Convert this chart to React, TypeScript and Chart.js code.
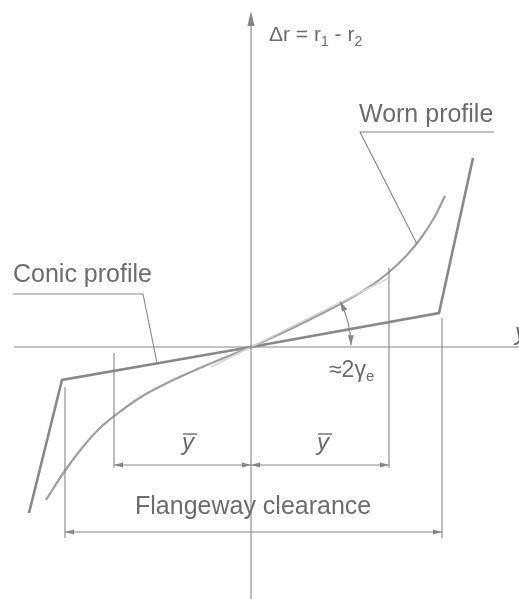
import { useEffect, useRef } from "react";
import { Chart, registerables } from "chart.js";

Chart.register(...registerables);

// Profile geometry in drawing units (lateral displacement y, rolling radius difference Δr)
const conicX = [-22.2, -18.9, 0, 18.8, 22.2];
const conicY = [-16.6, -3.3, 0, 3.4, 18.9];

const wornX = [-20.5, -18.7, -16.9, -15.2, -13.4, -11.0, -8.8, -5.1, -2.1, 0, 2.9, 6.0, 9.1, 11.5, 13.7, 15.5, 17.0, 18.3, 19.4];
const wornY = [-15.3, -12.5, -10.1, -8.2, -6.7, -5.0, -3.8, -2.1, -0.85, 0, 1.3, 2.8, 4.4, 5.8, 7.4, 9.1, 10.9, 12.9, 15.1];

// equivalent-conicity tangent through the origin
const tangentX = [-4, 0, 13.7];
const tangentY = [-2.0, 0, 6.85];

// axes
const axisHX = [-23.7, 26.8];
const axisVY = [-25.2, 33.6];

// dimension lines: [from, to, level]
const ybarLeft = [-13.7, 0, -11.8];
const ybarRight = [0, 13.8, -11.8];
const flangeway = [-18.6, 19.1, -18.5];

// extension lines: [x, yTop, yBottom]
const extLines = [
  [-13.7, -0.6, -12.1],
  [13.8, 7.9, -12.1],
  [-18.6, -4.0, -19.1],
  [19.1, 2.9, -19.1],
];

// leader lines (polyline points)
const conicLeaderX = [-23.8, -10.8, -9.4];
const conicLeaderY = [5.3, 5.3, -1.6];
const wornLeaderX = [24.3, 10.9, 16.6];
const wornLeaderY = [21.5, 21.5, 10.3];

// angle arc 2γe (radius, start angle, end angle in degrees)
const arcSpec = [10, 1, 27];

// text anchors
const conicLabel = { text: "Conic profile", x: -23.8, y: 6.5 };
const wornLabel = { text: "Worn profile", x: 10.8, y: 22.5 };
const flangeLabel = { text: "Flangeway clearance", x: -11.6, y: -16.7 };
const drLabel = { x: 1.8, y: 30.6 };
const gammaLabel = { x: 7.8, y: -2.97 };
const ybarLabels = [
  { x: -6.3, y: -10.3 },
  { x: 7.2, y: -10.3 },
];
const yAxisLabel = { text: "y", x: 26.4, y: 0.7 };

const X_MIN = -25.1;
const X_MAX = 26.8;
const Y_MIN = -25.2;
const Y_MAX = 34.7;

const THIN = "#858585";
const TEXT = "#6c6c6c";
const FONT = '"Liberation Sans", Arial, sans-serif';

const pts = (xs: number[], ys: number[]) => xs.map((x, i) => ({ x, y: ys[i] }));

const annotations = {
  id: "profileAnnotations",
  afterDatasetsDraw(chart: any) {
    const { ctx } = chart;
    const sx = (v: number) => chart.scales.x.getPixelForValue(v);
    const sy = (v: number) => chart.scales.y.getPixelForValue(v);

    const line = (x1: number, y1: number, x2: number, y2: number) => {
      ctx.beginPath();
      ctx.moveTo(sx(x1), sy(y1));
      ctx.lineTo(sx(x2), sy(y2));
      ctx.stroke();
    };
    const head = (px: number, py: number, dx: number, dy: number, len = 9, half = 2.6) => {
      const n = Math.hypot(dx, dy);
      const ux = dx / n;
      const uy = dy / n;
      ctx.beginPath();
      ctx.moveTo(px, py);
      ctx.lineTo(px - ux * len - uy * half, py - uy * len + ux * half);
      ctx.lineTo(px - ux * len + uy * half, py - uy * len - ux * half);
      ctx.closePath();
      ctx.fill();
    };

    ctx.save();
    ctx.strokeStyle = THIN;
    ctx.fillStyle = THIN;
    ctx.lineWidth = 1.1;

    // axes
    line(axisHX[0], 0, axisHX[1], 0);
    line(0, axisVY[0], 0, axisVY[1] - 1.2);
    head(sx(0), sy(axisVY[1]), 0, -1, 15, 3.6);

    // extension lines
    extLines.forEach(([x, t, b]) => line(x, t, x, b));

    // dimension lines with arrowheads
    [ybarLeft, ybarRight, flangeway].forEach(([a, b, lvl]) => {
      line(a, lvl, b, lvl);
      head(sx(a), sy(lvl), -1, 0);
      head(sx(b), sy(lvl), 1, 0);
    });

    // leaders
    [[conicLeaderX, conicLeaderY], [wornLeaderX, wornLeaderY]].forEach(([xs, ys]) => {
      ctx.beginPath();
      xs.forEach((x, i) => (i ? ctx.lineTo(sx(x), sy(ys[i])) : ctx.moveTo(sx(x), sy(ys[i]))));
      ctx.stroke();
    });

    // angle arc with arrows at both ends
    const [r, a0, a1] = arcSpec;
    const cx = sx(0);
    const cy = sy(0);
    const rp = sx(r) - sx(0);
    const t0 = (a0 * Math.PI) / 180;
    const t1 = (a1 * Math.PI) / 180;
    ctx.beginPath();
    ctx.arc(cx, cy, rp, -t1, -t0);
    ctx.stroke();
    head(cx + rp * Math.cos(t1), cy - rp * Math.sin(t1), -Math.sin(t1), -Math.cos(t1), 10, 3);
    head(cx + rp * Math.cos(t0), cy - rp * Math.sin(t0), Math.sin(t0), Math.cos(t0), 10, 3);

    // labels
    ctx.fillStyle = TEXT;
    ctx.textBaseline = "alphabetic";
    ctx.textAlign = "left";
    ctx.font = `25px ${FONT}`;
    [conicLabel, wornLabel, flangeLabel].forEach((l) => ctx.fillText(l.text, sx(l.x), sy(l.y)));

    // Δr = r1 - r2
    const runs = (x0: number, y0: number, parts: [string, number, number][]) => {
      let x = x0;
      parts.forEach(([s, size, dy]) => {
        ctx.font = `${size}px ${FONT}`;
        ctx.fillText(s, x, y0 + dy);
        x += ctx.measureText(s).width;
      });
    };
    runs(sx(drLabel.x), sy(drLabel.y), [
      ["Δr = r", 21, 0],
      ["1", 14, 5],
      [" - r", 21, 0],
      ["2", 14, 5],
    ]);
    runs(sx(gammaLabel.x), sy(gammaLabel.y), [
      ["≈2γ", 23, 0],
      ["e", 15, 4],
    ]);

    // ȳ
    ybarLabels.forEach((l) => {
      const x = sx(l.x);
      const y = sy(l.y);
      ctx.font = `italic 24px ${FONT}`;
      ctx.textAlign = "center";
      ctx.fillText("y", x, y);
      ctx.strokeStyle = TEXT;
      ctx.lineWidth = 1.4;
      ctx.beginPath();
      ctx.moveTo(x - 5, y - 16);
      ctx.lineTo(x + 9, y - 16);
      ctx.stroke();
    });
    ctx.textAlign = "left";
    ctx.font = `italic 24px ${FONT}`;
    ctx.fillText(yAxisLabel.text, sx(yAxisLabel.x), sy(yAxisLabel.y));

    ctx.restore();
  },
};

export default function App() {
  const ref = useRef<HTMLCanvasElement>(null);

  useEffect(() => {
    if (!ref.current) return;
    const chart = new Chart(ref.current, {
      type: "scatter",
      data: {
        datasets: [
          {
            label: "tangent",
            data: pts(tangentX, tangentY),
            showLine: true,
            borderColor: "#d6d6d6",
            borderWidth: 1.5,
            pointRadius: 0,
          },
          {
            label: "Worn profile",
            data: pts(wornX, wornY),
            showLine: true,
            borderColor: "#9e9e9e",
            borderWidth: 2.2,
            pointRadius: 0,
            cubicInterpolationMode: "monotone",
          },
          {
            label: "Conic profile",
            data: pts(conicX, conicY),
            showLine: true,
            borderColor: "#888888",
            borderWidth: 2.6,
            pointRadius: 0,
            borderJoinStyle: "miter",
          },
        ],
      },
      options: {
        animation: false,
        responsive: false,
        maintainAspectRatio: false,
        layout: { padding: 0 },
        plugins: { legend: { display: false }, tooltip: { enabled: false } },
        scales: {
          x: { type: "linear", min: X_MIN, max: X_MAX, display: false },
          y: { type: "linear", min: Y_MIN, max: Y_MAX, display: false },
        },
      },
      plugins: [annotations],
    });
    return () => chart.destroy();
  }, []);

  return (
    <div style={{ position: "absolute", left: 0, top: 0, width: 519, height: 599, background: "#fff" }}>
      <canvas ref={ref} width={519} height={599} />
    </div>
  );
}
